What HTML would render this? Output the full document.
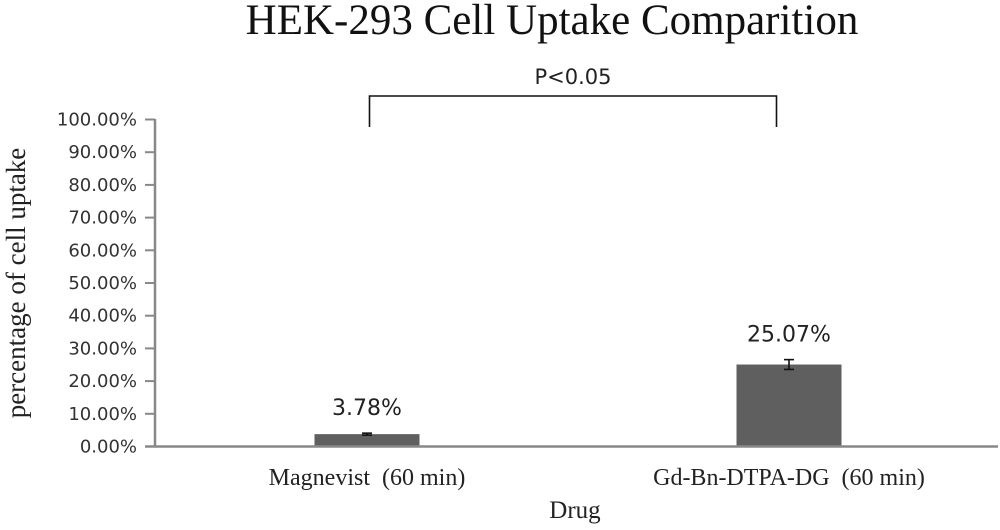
<!DOCTYPE html>
<html><head><meta charset="utf-8"><style>
body{margin:0;background:#fff}
svg text{font-family:"DejaVu Sans","Liberation Sans",sans-serif}
</style></head><body>
<svg id="chart" width="1000" height="525" viewBox="0 0 1000 525" xmlns="http://www.w3.org/2000/svg">
<text x="552" y="34" text-anchor="middle" font-size="43" style="font-family:'Liberation Serif',serif" fill="#111">HEK-293 Cell Uptake Comparition</text>
<g stroke="#111" stroke-width="1.6" fill="none">
<polyline points="369.5,127 369.5,96 776.5,96 776.5,127"/>
</g>
<text x="573" y="84" text-anchor="middle" font-size="21" fill="#222">P&lt;0.05</text>
<g id="yticks"></g>
<g id="bars"></g>
<line x1="155" y1="119" x2="155" y2="447" stroke="#888" stroke-width="2.5"/>
<line x1="145" y1="446.5" x2="998" y2="446.5" stroke="#888" stroke-width="2.5"/>
<text transform="translate(25,283) rotate(-90)" text-anchor="middle" font-size="27" style="font-family:'Liberation Serif',serif" fill="#222">percentage of cell uptake</text>
<text x="575" y="518" text-anchor="middle" font-size="25" style="font-family:'Liberation Serif',serif" fill="#222">Drug</text>
</svg>
<script>
const categories=["Magnevist  (60 min)","Gd-Bn-DTPA-DG  (60 min)"];
const values=[3.78,25.07];
const errors=[0.3,1.5];
const valueLabels=["3.78%","25.07%"];
const yTicks=[0,10,20,30,40,50,60,70,80,90,100];
const NS="http://www.w3.org/2000/svg";
function y(v){return 446.5-v*3.27;}
function xc(i){return 367+i*422;}
function mk(tag,attrs,parent){const e=document.createElementNS(NS,tag);for(const k in attrs)e.setAttribute(k,attrs[k]);parent.appendChild(e);return e;}
const yt=document.getElementById('yticks');
yTicks.forEach(t=>{
 const l=mk('line',{x1:145,x2:155,y1:y(t),y2:y(t),stroke:'#888','stroke-width':2},yt);
 
 
 const tx=mk('text',{x:137,y:y(t)+6,'text-anchor':'end','font-size':18,fill:'#333'},yt);
 tx.textContent=t.toFixed(2)+'%';
 
 
});
const bg=document.getElementById('bars');
categories.forEach((c,i)=>{
 const cx=xc(i),w=105;
 const r=mk('rect',{x:cx-w/2,y:y(values[i]),width:w,height:446.5-y(values[i]),fill:'#5f5f5f'},bg);
 
 
 const g=mk('g',{stroke:'#111','stroke-width':1.6},bg);
 
 
 mk('line',{x1:cx,x2:cx,y1:y(values[i]+errors[i]),y2:y(values[i]-errors[i])},g);
 mk('line',{x1:cx-5,x2:cx+5,y1:y(values[i]+errors[i]),y2:y(values[i]+errors[i])},g);
 mk('line',{x1:cx-5,x2:cx+5,y1:y(values[i]-errors[i]),y2:y(values[i]-errors[i])},g);
 const vl=mk('text',{x:cx,y:y(values[i]+errors[i])-18,'text-anchor':'middle','font-size':22,fill:'#222'},bg);
 vl.textContent=valueLabels[i];
 
 
 const cl=mk('text',{x:cx,y:485,'text-anchor':'middle','font-size':24,fill:'#222',style:"font-family:'Liberation Serif',serif;white-space:pre"},bg);
 cl.textContent=c;
 
 
});
</script>
</body></html>
